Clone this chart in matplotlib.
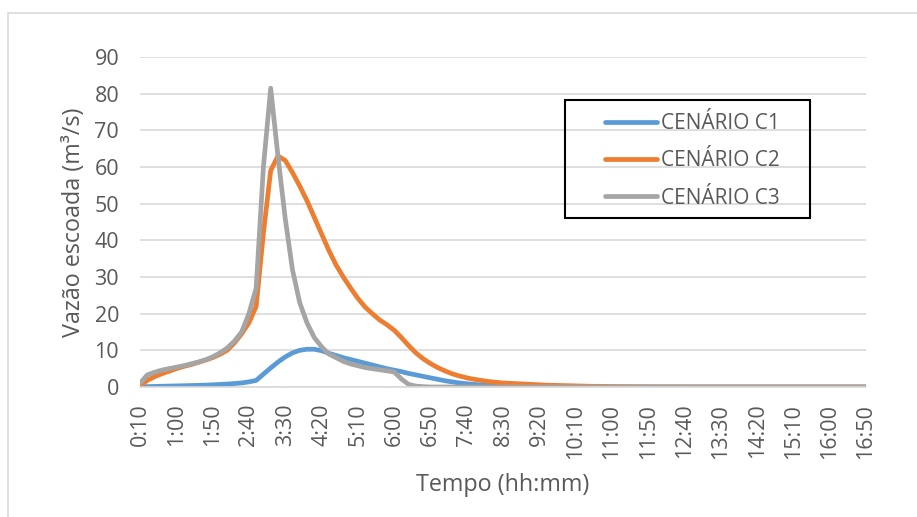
import numpy as np
import matplotlib
matplotlib.use('Agg')
import matplotlib.pyplot as plt
from matplotlib.patches import Rectangle

# time steps every 10 min from 0:10 to 16:50
minutes = list(range(10, 1011, 10))
times = ['%d:%02d' % (m // 60, m % 60) for m in minutes]

c1 = [0.0, 0.1, 0.15, 0.2, 0.25, 0.3, 0.35, 0.4, 0.45, 0.5,
      0.6, 0.7, 0.8, 0.95, 1.1, 1.4, 1.8, 3.5, 5.2, 6.8,
      8.2, 9.3, 10.0, 10.3, 10.3, 9.9, 9.2, 8.6, 8.0, 7.5,
      7.0, 6.5, 6.0, 5.5, 5.0, 4.6, 4.2, 3.7, 3.3, 2.9,
      2.5, 2.1, 1.7, 1.4, 1.1, 0.9, 0.7, 0.55, 0.45, 0.35,
      0.3, 0.25, 0.2, 0.15, 0.12, 0.1, 0.08, 0.06, 0.05, 0.04,
      0.03, 0.02, 0.02, 0.01, 0.01] + [0.0] * 36

c2 = [0.3, 1.8, 2.8, 3.6, 4.3, 5.0, 5.6, 6.1, 6.7, 7.3,
      8.0, 8.9, 10.0, 12.0, 14.5, 17.5, 22.0, 42.0, 59.0, 63.0,
      61.8, 58.5, 54.8, 50.8, 46.3, 41.8, 37.3, 33.3, 30.0, 27.0,
      24.2, 21.8, 20.0, 18.3, 17.0, 15.5, 13.5, 11.3, 9.3, 7.7,
      6.4, 5.3, 4.4, 3.6, 3.0, 2.5, 2.1, 1.8, 1.5, 1.3,
      1.1, 1.0, 0.9, 0.8, 0.7, 0.6, 0.5, 0.45, 0.4, 0.35,
      0.3, 0.25, 0.2, 0.18, 0.15, 0.12, 0.1, 0.08, 0.06, 0.05,
      0.04, 0.03, 0.02, 0.02, 0.01] + [0.0] * 26

c3 = [1.0, 3.3, 4.0, 4.6, 5.0, 5.4, 5.8, 6.3, 6.8, 7.4,
      8.2, 9.3, 10.6, 12.5, 15.0, 20.0, 27.0, 60.0, 81.5, 63.0,
      46.0, 32.0, 23.0, 17.5, 13.5, 11.0, 9.0, 8.0, 7.0, 6.3,
      5.8, 5.3, 5.0, 4.7, 4.4, 4.1, 2.2, 0.7, 0.25, 0.1] + [0.0] * 61

series = [('CENÁRIO C1', c1, '#5B9BD5'),
          ('CENÁRIO C2', c2, '#ED7D31'),
          ('CENÁRIO C3', c3, '#A5A5A5')]

plt.rcParams['font.family'] = ['Open Sans', 'DejaVu Sans']
txt = '#595959'

fig = plt.figure(figsize=(9.17, 5.17), dpi=100)
ax = fig.add_axes([140 / 917, 1 - 387 / 517, 726 / 917, 330 / 517])

x = np.arange(len(times))
for name, vals, col in series:
    ax.plot(x, vals, color=col, linewidth=3.4, label=name,
            solid_capstyle='round', solid_joinstyle='round')

ax.set_xlim(0, len(times) - 1)
ax.set_ylim(0, 90)
ax.set_yticks(range(0, 91, 10))
ax.set_xticks(x[::5])
ax.set_xticklabels(times[::5], rotation=90)
ax.tick_params(axis='both', length=0, labelsize=15.5, colors=txt)
ax.tick_params(axis='x', pad=12)
ax.tick_params(axis='y', pad=15)
ax.grid(axis='y', color='#D9D9D9', linewidth=1.2)
ax.set_axisbelow(True)
for s in ['top', 'right', 'left']:
    ax.spines[s].set_visible(False)
ax.spines['bottom'].set_color('#D9D9D9')
ax.spines['bottom'].set_linewidth(1.2)

ax.set_xlabel('Tempo (hh:mm)', fontsize=16.8, color=txt, labelpad=10)
ax.set_ylabel('Vazão escoada (m³/s)', fontsize=16.8, color=txt, labelpad=6)

# legend: entries without frame, box drawn separately
leg = ax.legend(loc='upper left', bbox_to_anchor=((605 - 140) / 726, (387 - 113) / 330),
                fontsize=15, frameon=False, handlelength=2.5,
                labelspacing=0.78, borderpad=0, handletextpad=0.2,
                borderaxespad=0)
for t in leg.get_texts():
    t.set_color(txt)
ax.add_patch(Rectangle(((565 - 140) / 726, (387 - 218) / 330),
                       245 / 726, 118 / 330, transform=ax.transAxes,
                       fill=False, edgecolor='black', linewidth=1.5,
                       clip_on=False, zorder=5))

fig.patches.append(Rectangle((8 / 917, -0.05), 1.1, 1 - 13 / 517 + 0.05,
                             transform=fig.transFigure, fill=False,
                             edgecolor='#D9D9D9', linewidth=1.2))

fig.savefig('out.png', dpi=100)
